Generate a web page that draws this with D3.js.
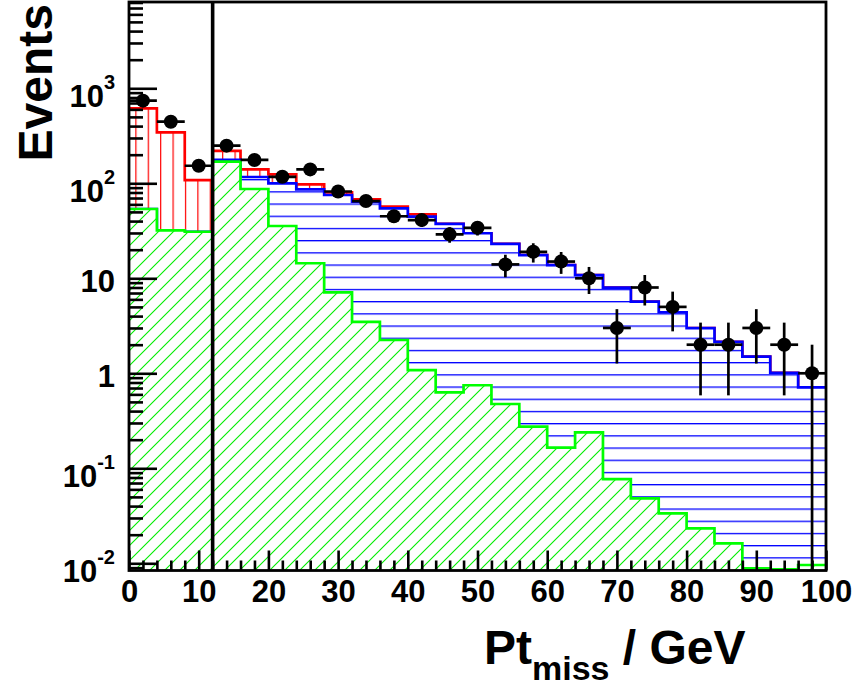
<!DOCTYPE html>
<html>
<head>
<meta charset="utf-8">
<script src="https://cdn.jsdelivr.net/npm/d3@7"></script>
<style>
  html, body { margin: 0; padding: 0; background: #fff; }
  svg { display: block; font-family: "Liberation Sans", Arial, Helvetica, sans-serif; font-weight: bold; }
</style>
</head>
<body>
<svg id="chart" width="856" height="686"></svg>
<script>
// Missing transverse momentum, 4 GeV bins
const binEdges = [0,4,8,12,16,20,24,28,32,36,40,44,48,52,56,60,64,68,72,76,80,84,88,92,96,100];

// Stacked contributions per bin (bottom to top)
const greenHist = [53.6, 32.0, 30.9, 168.8, 87.1, 35.5, 14.4, 7.12, 3.47, 2.24, 1.08, 0.63, 0.748,
                   0.475, 0.274, 0.165, 0.239, 0.077, 0.0483, 0.0336, 0.0233, 0.0162, 0.00885, 0.00864, 0.0096];
const blueHist  = [0, 0, 0, 7.2, 29.4, 64.5, 72.0, 68.2, 60.5, 52.3, 43.4, 36.7, 29.05,
                   22.5, 17.3, 13.6, 10.56, 7.88, 5.62, 4.36, 2.96, 2.13, 1.49, 1.0, 0.70];
const redHist   = [562, 312, 77, 43, 23.5, 24, 11.2, 5.1, 3.9, 2.2, 2.7, 0, 0,
                   0, 0, 0, 0, 0, 0, 0, 0, 0, 0, 0, 0];

// Observed event counts
const dataCounts = [741, 445, 153, 249, 176, 117, 140, 82, 65, 45, 41, 29, 34,
                    14, 19, 15, 10, 3, 8, 5, 2, 2, 3, 2, 1];

// Selection cut position (GeV)
const cutValue = 12;

// Axis labels
const xTickLabels = [0, 10, 20, 30, 40, 50, 60, 70, 80, 90, 100];
const yDecades = [-2, -1, 0, 1, 2, 3];
const yTickLabels = [["10", "-2"], ["10", "-1"], ["1", ""], ["10", ""], ["10", "2"], ["10", "3"]];

const svg = d3.select("#chart");
const frame = { left: 129, right: 826, top: 2, bottom: 570.5 };

const x = d3.scaleLinear().domain([0, 100]).range([frame.left, frame.right]);
const y = d3.scaleLog().domain([0.008398, 8097]).range([frame.bottom, frame.top]).clamp(true);

const defs = svg.append("defs");
defs.append("clipPath").attr("id", "plotClip")
  .append("rect")
  .attr("x", frame.left).attr("y", frame.top)
  .attr("width", frame.right - frame.left).attr("height", frame.bottom - frame.top);

// Hatch patterns (opaque white background with coloured lines)
const pRed = defs.append("pattern").attr("id", "hatchRed")
  .attr("patternUnits", "userSpaceOnUse").attr("x", -1.1).attr("y", 0)
  .attr("width", 12.4).attr("height", 20);
pRed.append("rect").attr("width", 12.4).attr("height", 20).attr("fill", "#fff");
pRed.append("line").attr("x1", 0.6).attr("x2", 0.6).attr("y1", 0).attr("y2", 20)
  .attr("stroke", "#ff0000").attr("stroke-width", 1.2);

const pBlue = defs.append("pattern").attr("id", "hatchBlue")
  .attr("patternUnits", "userSpaceOnUse").attr("x", 0).attr("y", -3.95)
  .attr("width", 20).attr("height", 12.2);
pBlue.append("rect").attr("width", 20).attr("height", 12.2).attr("fill", "#fff");
pBlue.append("line").attr("x1", 0).attr("x2", 20).attr("y1", 0.65).attr("y2", 0.65)
  .attr("stroke", "#0000ff").attr("stroke-width", 1.3);

// Diagonal "/" hatch, 15 px horizontal period
const gp = 15;
const pGreen = defs.append("pattern").attr("id", "hatchGreen")
  .attr("patternUnits", "userSpaceOnUse")
  .attr("width", gp).attr("height", gp);
pGreen.append("rect").attr("width", gp).attr("height", gp).attr("fill", "#fff");
pGreen.append("path")
  .attr("d", `M0,${gp} L${gp},0 M-2,2 L2,-2 M${gp - 2},${gp + 2} L${gp + 2},${gp - 2}`)
  .attr("stroke", "#00ee00").attr("stroke-width", 1.1).attr("fill", "none");

// Stack the three contributions
const rows = binEdges.slice(0, -1).map((e, i) => ({
  x0: e, green: greenHist[i], blue: blueHist[i], red: redHist[i]
}));
const keys = ["green", "blue", "red"];
const stacked = d3.stack().keys(keys)(rows);
const layerStyle = {
  green: { fill: "url(#hatchGreen)", stroke: "#00ff00" },
  blue:  { fill: "url(#hatchBlue)",  stroke: "#0000ff" },
  red:   { fill: "url(#hatchRed)",   stroke: "#ff0000" }
};

const plot = svg.append("g").attr("clip-path", "url(#plotClip)");

const area = d3.area().curve(d3.curveStepAfter)
  .x(d => x(d[0])).y0(frame.bottom).y1(d => y(d[1]));
const line = d3.line().curve(d3.curveStepAfter)
  .x(d => x(d[0])).y(d => y(d[1]));

// Draw the cumulative totals from the top layer down so lower layers overlay
stacked.slice().reverse().forEach(layer => {
  const pts = layer.map((d, i) => [binEdges[i], d[1]]);
  pts.push([binEdges[binEdges.length - 1], layer[layer.length - 1][1]]);
  const st = layerStyle[layer.key];
  plot.append("path").attr("d", area(pts)).attr("fill", st.fill).attr("stroke", "none");
  plot.append("path").attr("d", line(pts)).attr("fill", "none")
    .attr("stroke", st.stroke).attr("stroke-width", 2.7);
});

// Data points with Poisson error bars
const pts = plot.append("g");
dataCounts.forEach((n, i) => {
  const lo = binEdges[i], hi = binEdges[i + 1];
  const cx = x((lo + hi) / 2), cy = y(n);
  const err = Math.sqrt(n);
  const yUp = y(n + err);
  const yDn = (n - err) > 0 ? y(n - err) : frame.bottom;
  pts.append("line").attr("x1", x(lo)).attr("x2", x(hi)).attr("y1", cy).attr("y2", cy)
    .attr("stroke", "#000").attr("stroke-width", 2.7);
  pts.append("line").attr("x1", cx).attr("x2", cx).attr("y1", yUp).attr("y2", yDn)
    .attr("stroke", "#000").attr("stroke-width", 2.7);
  pts.append("circle").attr("cx", cx).attr("cy", cy).attr("r", 7).attr("fill", "#000");
});

// Cut line
svg.append("line")
  .attr("x1", x(cutValue)).attr("x2", x(cutValue))
  .attr("y1", frame.top).attr("y2", frame.bottom)
  .attr("stroke", "#000").attr("stroke-width", 3.6);

// Y axis ticks (inside the frame)
const decadeVals = yDecades.map(p => Math.pow(10, p));
const minorY = y.ticks().filter(v => !decadeVals.some(d => Math.abs(v / d - 1) < 1e-9));
const gyMinor = svg.append("g").attr("transform", `translate(${frame.left},0)`)
  .call(d3.axisRight(y).tickValues(minorY).tickSize(14).tickFormat(""));
const gyMajor = svg.append("g").attr("transform", `translate(${frame.left},0)`)
  .call(d3.axisRight(y).tickValues(decadeVals).tickSize(28).tickFormat(""));
[gyMinor, gyMajor].forEach(g => {
  g.select(".domain").remove();
  g.selectAll(".tick line").attr("stroke", "#000").attr("stroke-width", 2.6);
});

// Y tick labels with exponents
const yLab = svg.append("g");
yDecades.forEach((p, i) => {
  const [base, sup] = yTickLabels[i];
  const ty = y(Math.pow(10, p));
  const t = yLab.append("text")
    .attr("x", 115).attr("y", ty + (sup ? 18.5 : 14))
    .attr("text-anchor", "end").attr("font-size", 31).attr("fill", "#000");
  t.append("tspan").text(base);
  if (sup) t.append("tspan").attr("font-size", 20).attr("dy", -18).text(sup);
});

// X axis ticks (inside the frame) and labels
const minorX = d3.range(0, 101, 2).filter(v => v % 10 !== 0);
const gxMinor = svg.append("g").attr("transform", `translate(0,${frame.bottom})`)
  .call(d3.axisTop(x).tickValues(minorX).tickSize(10).tickFormat(""));
const gxMajor = svg.append("g").attr("transform", `translate(0,${frame.bottom})`)
  .call(d3.axisTop(x).tickValues(xTickLabels).tickSize(20).tickFormat(""));
[gxMinor, gxMajor].forEach(g => {
  g.select(".domain").remove();
  g.selectAll(".tick line").attr("stroke", "#000").attr("stroke-width", 2.6);
});
const gxLab = svg.append("g").attr("transform", `translate(0,${frame.bottom})`)
  .call(d3.axisBottom(x).tickValues(xTickLabels).tickSize(0).tickPadding(9.5).tickFormat(d3.format("d")));
gxLab.select(".domain").remove();
gxLab.selectAll("text").attr("font-size", 31).attr("fill", "#000")
  .attr("font-family", "\"Liberation Sans\", Arial, Helvetica, sans-serif").attr("font-weight", "bold");

// Frame
svg.append("rect")
  .attr("x", frame.left).attr("y", frame.top)
  .attr("width", frame.right - frame.left).attr("height", frame.bottom - frame.top)
  .attr("fill", "none").attr("stroke", "#000").attr("stroke-width", 2.8);

// Axis titles
svg.append("text")
  .attr("transform", "translate(51.5,4) rotate(-90)")
  .attr("text-anchor", "end").attr("font-size", 48).attr("fill", "#000")
  .text("Events");

const xt = svg.append("text")
  .attr("x", 484).attr("y", 664).attr("font-size", 48).attr("fill", "#000")
  .style("white-space", "pre");
xt.append("tspan").text("Pt");
xt.append("tspan").attr("font-size", 34).attr("dy", 16).text("miss");
xt.append("tspan").attr("font-size", 48).attr("dy", -16).text(" / GeV");
</script>
</body>
</html>
